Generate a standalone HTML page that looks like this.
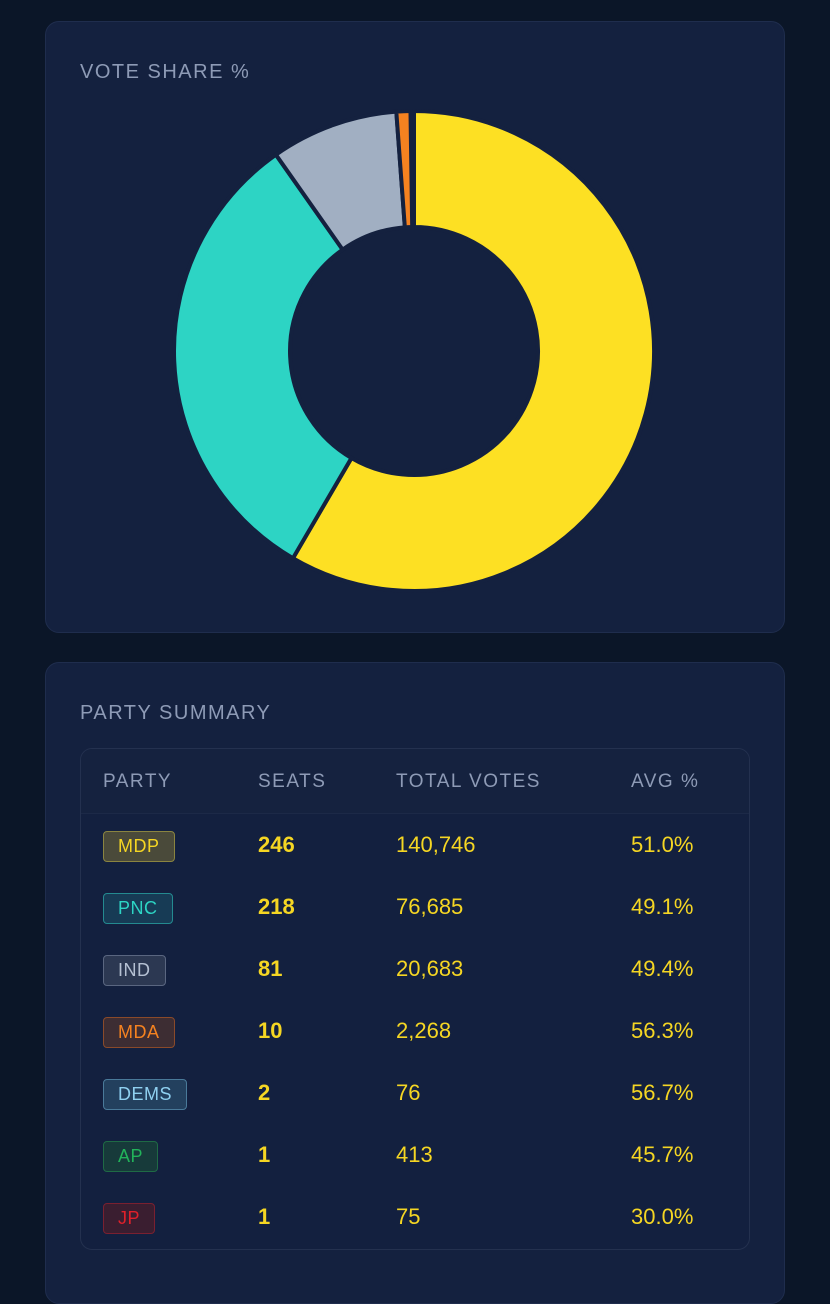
<!DOCTYPE html>
<html><head><style>
body{margin:0;width:830px;height:1280px;background:#0b1628;font-family:"Liberation Sans",sans-serif;overflow:hidden;position:relative}
.card{position:absolute;left:45px;width:738px;background:#14213f;border:1px solid #1f2d4d;border-radius:14px}
.title{position:absolute;left:34px;color:#8e9bb6;font-size:20px;letter-spacing:1.5px}
.tbl{position:absolute;left:34px;top:85px;width:668px;height:500px;border:1px solid #24314f;border-radius:12px;overflow:hidden;background:#13203f}
.hdr{height:64px;background:#15223f;border-bottom:1px solid #1c2947}
.c{position:absolute;font-size:22px;color:#f5d623}
.h{position:absolute;top:22px;font-size:19px;color:#8e9bb6;letter-spacing:1.5px}
.b{position:absolute;left:22px;height:29px;line-height:29px;padding:0 14px;font-size:18px;border-radius:4px;border:1.5px solid;letter-spacing:0.5px}
</style></head><body>
<div class="card" style="top:21px;height:610px">
<div class="title" style="top:39px">VOTE SHARE %</div>
</div>
<svg style="position:absolute;left:0;top:0" width="830" height="640">
<g stroke="#14213f" stroke-width="4" stroke-linejoin="miter">
<path d="M414,111 A240,240 0 1 1 292.94,558.22 L351.45,458.06 A124,124 0 1 0 414,227 Z" fill="#fde023"/>
<path d="M292.94,558.22 A240,240 0 0 1 275.9,154.7 L342.64,249.6 A124,124 0 0 0 351.45,458.06 Z" fill="#2dd4c4"/>
<path d="M275.9,154.7 A240,240 0 0 1 396.3,111.65 L404.85,227.33 A124,124 0 0 0 342.64,249.6 Z" fill="#a1afc2"/>
<path d="M396.3,111.65 A240,240 0 0 1 410.48,111.03 L412.18,227.01 A124,124 0 0 0 404.85,227.33 Z" fill="#f58220"/>
</g>
</svg>
<div class="card" style="top:662px;height:640px">
<div class="title" style="top:39px">PARTY SUMMARY</div>
<div class="tbl">
<div class="hdr"></div>
<div class="h" style="left:22px">PARTY</div>
<div class="h" style="left:177px">SEATS</div>
<div class="h" style="left:315px">TOTAL VOTES</div>
<div class="h" style="left:550px">AVG %</div>

<div class="b" style="top:82px;color:#f5d623;background:#4a4a3a;border-color:#8a8440">MDP</div>
<div class="c" style="left:177px;top:83px;font-weight:bold">246</div><div class="c" style="left:315px;top:83px">140,746</div><div class="c" style="left:550px;top:83px">51.0%</div>

<div class="b" style="top:144px;color:#2dd4c4;background:#173b55;border-color:#248a90">PNC</div>
<div class="c" style="left:177px;top:145px;font-weight:bold">218</div><div class="c" style="left:315px;top:145px">76,685</div><div class="c" style="left:550px;top:145px">49.1%</div>

<div class="b" style="top:206px;color:#b5c0d2;background:#2c3852;border-color:#5a6680">IND</div>
<div class="c" style="left:177px;top:207px;font-weight:bold">81</div><div class="c" style="left:315px;top:207px">20,683</div><div class="c" style="left:550px;top:207px">49.4%</div>

<div class="b" style="top:268px;color:#f58220;background:#3d2d33;border-color:#8a4a2a">MDA</div>
<div class="c" style="left:177px;top:269px;font-weight:bold">10</div><div class="c" style="left:315px;top:269px">2,268</div><div class="c" style="left:550px;top:269px">56.3%</div>

<div class="b" style="top:330px;color:#8fd0f0;background:#23405e;border-color:#4a7a9a">DEMS</div>
<div class="c" style="left:177px;top:331px;font-weight:bold">2</div><div class="c" style="left:315px;top:331px">76</div><div class="c" style="left:550px;top:331px">56.7%</div>

<div class="b" style="top:392px;color:#22b35a;background:#173a3a;border-color:#1f6a45">AP</div>
<div class="c" style="left:177px;top:393px;font-weight:bold">1</div><div class="c" style="left:315px;top:393px">413</div><div class="c" style="left:550px;top:393px">45.7%</div>

<div class="b" style="top:454px;color:#e0202a;background:#3a1e30;border-color:#7a2030">JP</div>
<div class="c" style="left:177px;top:455px;font-weight:bold">1</div><div class="c" style="left:315px;top:455px">75</div><div class="c" style="left:550px;top:455px">30.0%</div>
</div>
</div>
</body></html>
